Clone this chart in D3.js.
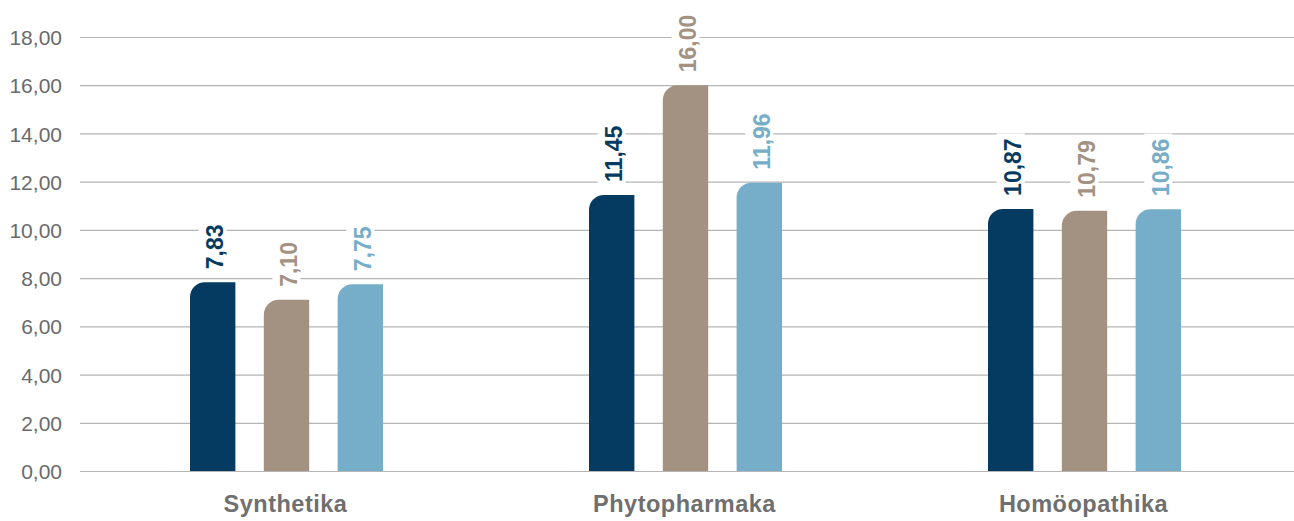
<!DOCTYPE html>
<html>
<head>
<meta charset="utf-8">
<script src="https://cdn.jsdelivr.net/npm/d3@7/dist/d3.min.js"></script>
<style>
  html, body { margin: 0; padding: 0; background: #fff; }
  svg { display: block; font-family: "Liberation Sans", Arial, Helvetica, sans-serif; }
</style>
</head>
<body>
<svg id="chart" width="1294" height="521"></svg>
<script>
const categories = ["Synthetika", "Phytopharmaka", "Homöopathika"];
const seriesNames = ["A", "B", "C"];
const seriesA = [7.83, 11.45, 10.87];
const seriesB = [7.10, 16.00, 10.79];
const seriesC = [7.75, 11.96, 10.86];
const tickValues = [0, 2, 4, 6, 8, 10, 12, 14, 16, 18];
const colors = ["#053a61", "#a39282", "#76adc8"];

const series = [seriesA, seriesB, seriesC];
const data = [];
categories.forEach((c, i) => {
  series.forEach((s, j) => data.push({ cat: c, ser: seriesNames[j], si: j, value: s[i] }));
});

const svg = d3.select("#chart");
const fmt = v => d3.format(".2f")(v).replace(".", ",");

const y = d3.scaleLinear().domain([0, 18]).range([471, 37]);
const x0 = d3.scaleBand().domain(categories).range([87, 1284]).padding(0);
const x1 = d3.scaleBand().domain(seriesNames).range([0, 193]).paddingInner(0.385).paddingOuter(0);
const groupOffset = (x0.bandwidth() - 193) / 2;

// grid lines and y tick labels
const yAxis = d3.axisLeft(y).tickValues(tickValues).tickSize(-(1294 - 80)).tickFormat(fmt);
const gy = svg.append("g").attr("transform", "translate(80,0)").call(yAxis);
gy.select(".domain").remove();
gy.selectAll(".tick line").attr("stroke", "#b5b5b5").attr("stroke-width", 1.2);
gy.selectAll(".tick text").attr("fill", "#6a6a6a").attr("font-size", 21).attr("x", -18).attr("dy", "0.36em");

// bars with rounded top-left corner
const r = 15;
function barPath(x, yTop, w, yBase) {
  const h = yBase - yTop;
  const rr = Math.min(r, h);
  return `M${x},${yBase}V${yTop + rr}A${rr},${rr} 0 0 1 ${x + rr},${yTop}H${x + w}V${yBase}Z`;
}

const bars = svg.append("g");
bars.selectAll("path").data(data).join("path")
  .attr("d", d => {
    const bx = x0(d.cat) + groupOffset + x1(d.ser);
    return barPath(bx, y(d.value), x1.bandwidth(), y(0));
  })
  .attr("fill", d => colors[d.si]);

// value labels (rotated, with white backing that interrupts grid lines)
const labels = svg.append("g");
data.forEach(d => {
  const cx = x0(d.cat) + groupOffset + x1(d.ser) + x1.bandwidth() / 2;
  const yb = y(d.value) - 13;
  const g = labels.append("g").attr("transform", `translate(${cx},${yb}) rotate(-90)`);
  const t = g.append("text")
    .attr("x", 0).attr("y", 2).attr("dy", "0.36em")
    .attr("font-size", 23).attr("font-weight", "bold")
    .attr("fill", colors[d.si])
    .text(fmt(d.value));
  const bb = t.node().getBBox();
  g.insert("rect", "text")
    .attr("x", bb.x - 5).attr("y", -14).attr("width", bb.width + 10).attr("height", 28)
    .attr("fill", "#fff");
});

// category labels
svg.append("g").selectAll("text").data(categories).join("text")
  .attr("x", d => x0(d) + x0.bandwidth() / 2 - 1)
  .attr("y", 512)
  .attr("text-anchor", "middle")
  .attr("font-size", 23.5).attr("font-weight", "bold")
  .attr("letter-spacing", 0.5)
  .attr("fill", "#6f6f6f")
  .text(d => d);
</script>
</body>
</html>
